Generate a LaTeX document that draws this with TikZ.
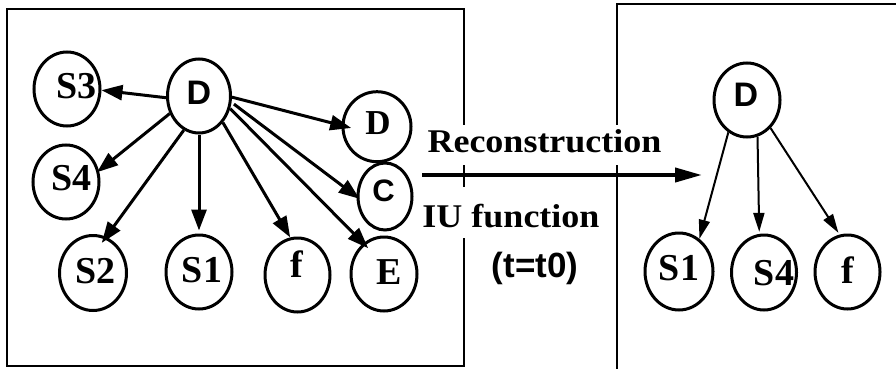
\documentclass[tikz,border=0pt]{standalone}
\usepackage{fontspec}
\usepackage{graphicx}
\setmainfont{Liberation Serif}
\newfontfamily\hsans{Liberation Sans}
\usetikzlibrary{shapes.geometric,arrows.meta}
\begin{document}
\begin{tikzpicture}[x=1pt,y=-1pt,
  circ/.style={ellipse, draw, line width=3pt, inner sep=0pt, minimum width=66pt, minimum height=74pt},
  slbl/.style={inner sep=0pt, font=\bfseries\fontsize{38}{40}\selectfont},
  hlbl/.style={inner sep=0pt, font=\hsans\bfseries\fontsize{34}{38}\selectfont},
  edgeL/.style={line width=3pt, -{Triangle[length=21pt,width=15pt]}},
  edgeR/.style={line width=2pt, -{Triangle[length=19pt,width=11pt]}},
  frame/.style={line width=1.5pt},
  txt/.style={fill=white, inner xsep=2pt, inner ysep=0pt, anchor=base, font=\bfseries\fontsize{36}{40}\selectfont},
]
\useasboundingbox (0,0) rectangle (896,369);
% frames
\draw[frame] (7,9) rectangle (464,366);
\draw[frame] (896,4) -- (617,4) -- (617,372);
% left graph
\node[circ, minimum width=63pt, label={[hlbl,yshift=2.7pt]center:D}] (D) at (199,96) {};
\node[circ, label={[slbl,xshift=9.7pt,yshift=3.3pt]center:S3}] (S3) at (67,89) {};
\node[circ, label={[slbl,xshift=5.3pt,yshift=3.7pt]center:S4}] (S4) at (66,182) {};
\node[circ, minimum width=67pt, minimum height=75pt, label={[slbl,xshift=2.7pt,yshift=2.3pt]center:S2}] (S2) at (93,273) {};
\node[circ, label={[slbl,xshift=3pt,yshift=2pt]center:S1}] (S1) at (199,272) {};
\node[circ, minimum width=65pt, label={[slbl,xshift=-0.8pt,yshift=11pt]center:f}] (f) at (297.5,275) {};
\node[circ, label={[slbl,xshift=5pt,yshift=1.5pt]center:E}] (E) at (384,274) {};
\node[circ, minimum width=68pt, minimum height=70pt, label={[slbl,font=\bfseries\fontsize{35}{38}\selectfont,xshift=1pt,yshift=3.7pt]center:D}] (D2) at (377,126.7) {};
\node[circ, minimum width=54pt, minimum height=67pt, label={[hlbl,font=\hsans\bfseries\fontsize{31}{34}\selectfont,xshift=-1.5pt,yshift=5.5pt]center:C}] (C) at (385,196.5) {};
% right graph
\node[circ, label={[hlbl,xshift=-1pt,yshift=5pt]center:D}] (RD) at (747,100) {};
\node[circ, minimum width=68pt, minimum height=77pt, label={[slbl,yshift=3.2pt]center:S1}] (RS1) at (679,271.5) {};
\node[circ, minimum width=65pt, minimum height=75pt, label={[slbl,xshift=10pt,yshift=-0.8pt]center:S4}] (RS4) at (764,272.5) {};
\node[circ, minimum width=65pt, minimum height=74pt, label={[slbl,yshift=2pt]center:f}] (Rf) at (847.5,272) {};
% left edges
\draw[edgeL] (D.183) -- (S3.358);
\draw[edgeL, shorten >=-2.5pt] (D.211) -- (S4.19);
\draw[edgeL, shorten >=-7.5pt] (D.246) -- (S2.70);
\draw[edgeL, shorten >=3pt] (D.270) -- (S1.90);
\draw[edgeL] (D.312) -- (f.101);
\draw[edgeL, shorten >=-7pt] (D.338) -- (E.124);
\draw[edgeL, shorten <=3pt, shorten >=-4pt] (D.349) -- (C.180);
\draw[edgeL, shorten >=-10pt] (D.358) -- (D2.178);
% right edges
\draw[edgeR] (RD.240) -- (RS1.58);
\draw[edgeR, shorten >=2pt] (RD.286) -- (RS4.97);
\draw[edgeR, shorten >=2pt] (RD.310) -- (Rf.102);
% middle texts
\node[txt, text height=27pt, text depth=13pt] (rec) at (544.5,152) {\scalebox{1}[0.92]{Reconstruction}};
\node[txt, text height=40pt, text depth=11pt] (iu) at (511,227) {\scalebox{1}[0.92]{IU function}};
\node[anchor=base, inner sep=0pt, font=\hsans\bfseries\fontsize{35}{40}\selectfont] (tt) at (535,277) {(t=t0)};
% main arrow
\coordinate (a0) at (422,175);
\coordinate (a1) at (702,175);
\draw[line width=4pt, -{Triangle[length=27pt,width=14pt]}] (a0) -- (a1);
\end{tikzpicture}
\end{document}
